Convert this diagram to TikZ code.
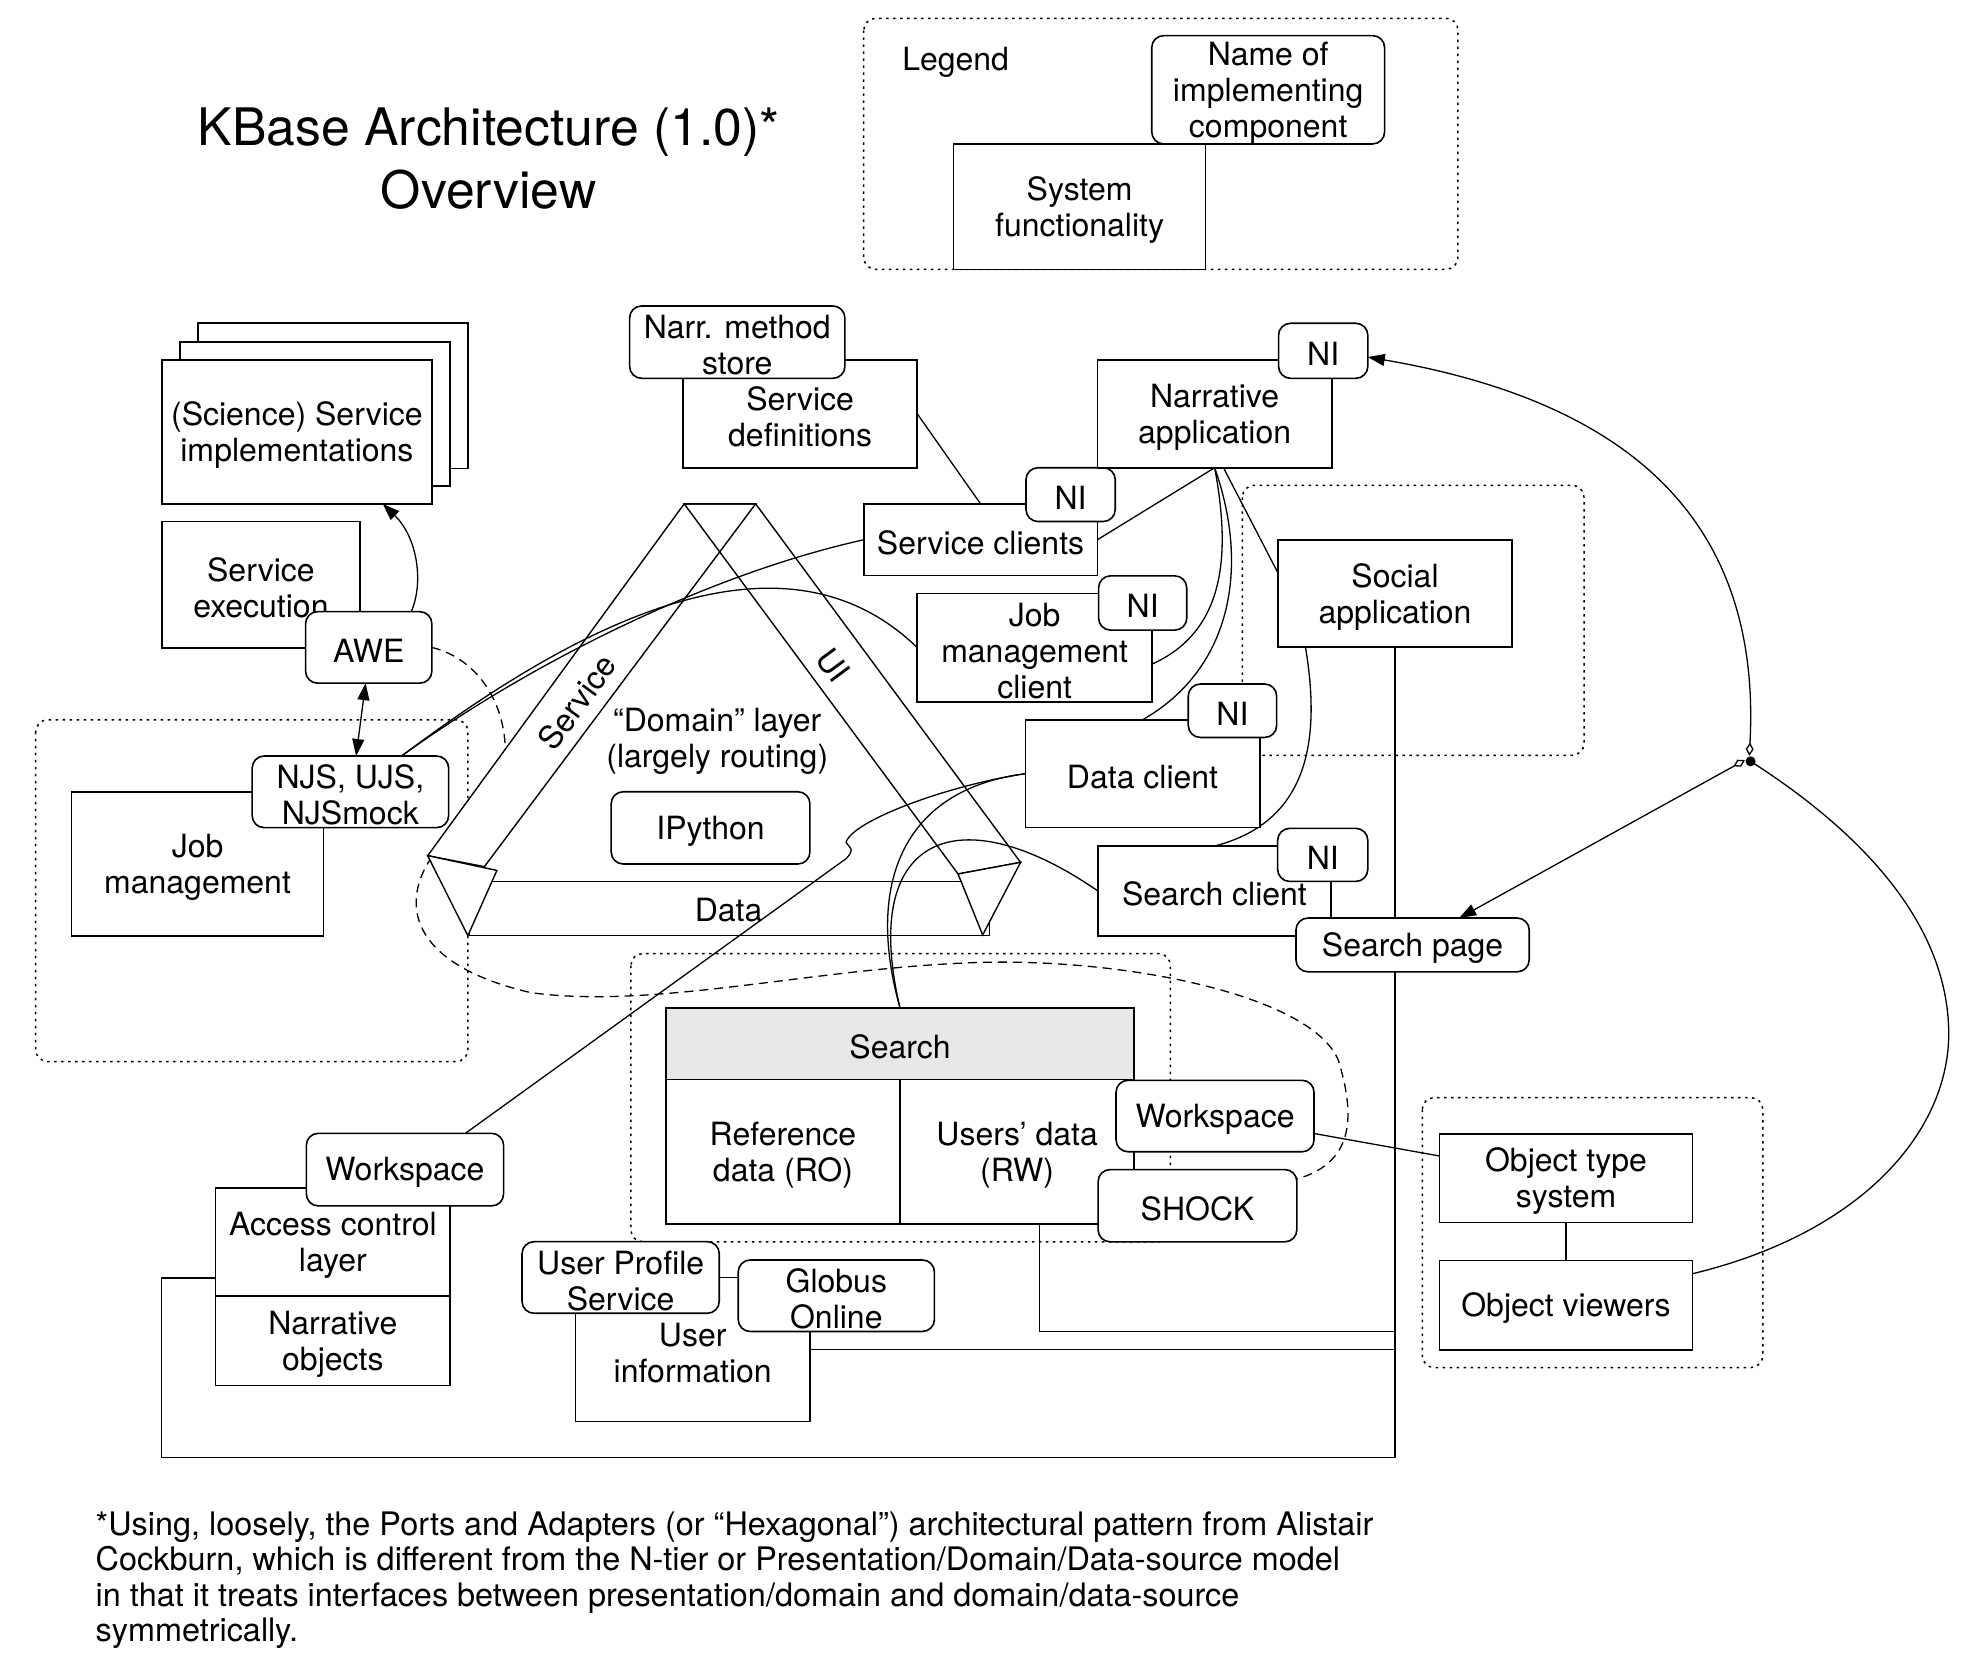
\documentclass[tikz,border=0pt]{standalone}
\usepackage{fontspec}
\setmainfont{TeX Gyre Heros}
\usetikzlibrary{arrows.meta,calc}
\pgfdeclarelayer{bg}\pgfdeclarelayer{mid}\pgfdeclarelayer{front}
\pgfsetlayers{bg,mid,main,front}
\newlength\ux\setlength\ux{1.2628pt}
\newcommand\bx[7]{\node[#1, minimum width={(#5-#3)*\ux}, minimum height={(#6-#4)*\ux}] (#2) at ({(#3+#5)/2},{(#4+#6)/2}) {};
  \node[align=center, inner sep=0pt] (#2t) at ($(#2.center)+(0,2.5)$) {#7};}
\begin{document}
\begin{tikzpicture}[x=1.2628pt,y=-1.2628pt,
  font=\fontsize{32pt}{36pt}\selectfont,
  sys/.style={draw, line width=1.6pt, fill=white, inner sep=0pt, outer sep=0pt},
  comp/.style={sys, rounded corners=12pt},
  grp/.style={draw, line width=1.5pt, dash pattern=on 2.5pt off 4.5pt, rounded corners=12pt},
  conn/.style={line width=1.3pt},
  band/.style={draw, line width=1.4pt, line join=miter},
  dashl/.style={line width=1.3pt, dash pattern=on 9pt off 6pt},
  tri/.tip={Triangle[length=17pt,width=12pt]},
  dia/.tip={Diamond[open,length=13pt,width=8pt]}]
\useasboundingbox (0,0) rectangle (1568,1327);

% ---------- nodes (front layer) ----------
\begin{pgfonlayer}{front}
\node[align=center, font=\fontsize{51.7pt}{63pt}\selectfont] (title) at (387,126) {KBase Architecture (1.0)*\\Overview};
\node (legtxt) at (756.8,49) {Legend};
\bx{sys}{legsys}{755.2}{114}{954.7}{213.3}{System\\functionality}
\bx{comp}{legname}{912.1}{28.2}{1096.5}{114}{Name of\\implementing\\component}

\bx{sys}{sci3}{156.6}{256}{370.6}{370.9}{}
\bx{sys}{sci2}{142.5}{270.6}{356.3}{384.9}{}
\bx{sys}{sci}{128.3}{285}{342}{399}{(Science) Service\\implementations}
\bx{sys}{sexec}{128.3}{413}{285}{513}{Service\\execution}
\bx{comp}{awe}{242}{484.4}{342}{541}{AWE}
\bx{sys}{jm}{56.6}{627}{256.3}{741}{Job\\management}
\bx{comp}{njs}{199.7}{598.7}{355.3}{655.4}{NJS, UJS,\\NJSmock}

\bx{sys}{sdef}{541}{285}{726.4}{370.4}{Service\\definitions}
\bx{comp}{nms}{498.6}{242.3}{669.1}{299.6}{Narr. method\\store}
\bx{sys}{sclient}{684}{399}{869}{455.9}{Service clients}
\bx{comp}{niA}{812.5}{370.4}{883.2}{413}{NI}
\bx{sys}{narr}{869}{285}{1054.8}{370.4}{Narrative\\application}
\bx{comp}{niN}{1012.5}{256}{1083.2}{299.6}{NI}
\bx{sys}{jmc}{726.4}{470}{912.3}{555.7}{Job\\management\\client}
\bx{comp}{niJ}{870}{456}{939.8}{499}{NI}
\bx{sys}{dcl}{812}{570}{997.6}{655.4}{Data client}
\bx{comp}{niD}{941}{541.7}{1011}{584}{NI}
\bx{sys}{srcl}{869.3}{670}{1054.2}{741}{Search client}
\bx{comp}{niS}{1011.8}{656}{1083.2}{698}{NI}
\bx{comp}{spage}{1026.3}{727}{1211}{769.6}{Search page}
\bx{sys}{social}{1012}{427.4}{1197.5}{512.6}{Social\\application}

\bx{comp}{ipy}{484}{627}{641.4}{684.2}{IPython}
\node[align=center] (domain) at (568,587) {“Domain” layer\\(largely routing)};
\node[rotate=53.9] (svclbl) at (457,556) {Service};
\node[rotate=-53.5] (uilbl) at (660,527) {UI};
\node (datalbl) at (577,721) {Data};

\bx{sys,fill=black!9}{shdr}{527.3}{798.2}{898.2}{855}{Search}
\bx{sys}{refd}{527.3}{855}{712.8}{969.2}{Reference\\data (RO)}
\bx{sys}{users}{712.8}{855}{898.2}{969.2}{Users’ data\\(RW)}
\bx{comp}{ws2}{883.8}{855.5}{1040.6}{912.1}{Workspace}
\bx{comp}{shock}{869.6}{926.2}{1027}{983.4}{SHOCK}

\bx{sys}{acl}{170.8}{941}{356.4}{1026.3}{Access control\\layer}
\bx{sys}{nobj}{170.8}{1026.3}{356.4}{1097.3}{Narrative\\objects}
\bx{comp}{ws1}{242.6}{897.5}{398.8}{955}{Workspace}

\bx{sys}{uinfo}{455.7}{1011.6}{641.4}{1125.8}{User\\information}
\bx{comp}{ups}{413.4}{983.3}{569.6}{1040}{User Profile\\Service}
\bx{comp}{globus}{584.6}{997.8}{740}{1054.4}{Globus\\Online}

\bx{sys}{ots}{1140}{898}{1340.3}{968.2}{Object type\\system}
\bx{sys}{ov}{1140}{998.3}{1340.3}{1069}{Object viewers}

\begin{scope}[font=\fontsize{32.4pt}{36pt}\selectfont]
\node[anchor=base west] (fn1) at (73,1216) {*Using, loosely, the Ports and Adapters (or “Hexagonal”) architectural pattern from Alistair};
\node[anchor=base west] (fn2) at (73,1244) {Cockburn, which is different from the N-tier or Presentation/Domain/Data-source model};
\node[anchor=base west] (fn3) at (73,1272) {in that it treats interfaces between presentation/domain and domain/data-source};
\node[anchor=base west] (fn4) at (73,1300) {symmetrically.};
\end{scope}
\end{pgfonlayer}

% ---------- group boxes and dashed loop (background) ----------
\begin{pgfonlayer}{bg}
\draw[grp] (684,14.5) rectangle (1154.6,213.3);
\draw[grp] (28.3,570) rectangle (370.6,840.7);
\draw[grp] (983.8,384.3) rectangle (1254.4,598.2);
\draw[grp] (499.6,755.1) rectangle (926.8,983.4);
\draw[grp] (1126.3,869.2) rectangle (1396,1083);
\draw[dashl] (awe.east) .. controls (380,522) and (402,560) .. (400,600)
  .. controls (398,630) and (370,655) .. (341,680)
  .. controls (315,720) and (330,765) .. (420,786)
  .. controls (520,800) and (650,765) .. (782,762)
  .. controls (900,760) and (1040,790) .. (1060,840)
  .. controls (1072,880) and (1075,920) .. (shock.15);
\end{pgfonlayer}

% ---------- the domain triangle (middle layer) ----------
\begin{pgfonlayer}{mid}
\fill[white] (541.8,399) -- (598.4,399) -- (383.6,686.3) -- (338.7,677.6) -- cycle;
\fill[white] (541.8,399) -- (598.4,399) -- (808.2,682.9) -- (758.7,692.1) -- cycle;
\fill[white] (371.6,698.2) rectangle (783.5,741);
\draw[band] (541.8,399) -- (598.4,399) -- (383.6,686.3) -- (338.7,677.6) -- cycle;
\draw[band] (541.8,399) -- (598.4,399) -- (808.2,682.9) -- (758.7,692.1) -- cycle;
\draw[band] (371.6,698.2) rectangle (783.5,741);
\filldraw[band, fill=white] (338.7,677.6) -- (393.5,689.3) -- (370.5,741) -- cycle;
\filldraw[band, fill=white] (758.7,692.1) -- (808.2,682.9) -- (778.2,740.4) -- cycle;
\end{pgfonlayer}

% ---------- connectors ----------
\draw[conn,-tri] (awe.40) .. controls (336,460) and (330,425) .. (sci.-40);
\draw[conn,tri-tri] (awe.-95) -- (njs.81);
\draw[conn] (sdef.east) -- (sclient.north);
\draw[conn] (sclient.east) -- (narr.south);
\draw[conn] (narr.south) .. controls (975,440) and (970,500) .. (jmc.-8);
\draw[conn] (narr.south) .. controls (990,450) and (975,530) .. (dcl.north);
\draw[conn] ($(narr.south)+(7,0)$) -- (social.170);
\draw[conn] (social.211) .. controls (1045,580) and (1040,650) .. (srcl.north);
\draw[conn] (srcl.west) .. controls (760,630) and (680,660) .. (shdr.north);
\draw[conn] (dcl.west) .. controls (715,625) and (685,700) .. (shdr.north);
\draw[conn] (dcl.west) .. controls (750,622) and (675,650) .. (670,667)
  .. controls (672,671) and (678,672) .. (670,680) -- (ws1.31);
\draw[conn] (njs.35) .. controls (420,525) and (560,455) .. (sclient.west);
\draw[conn] (njs.35) .. controls (430,515) and (610,400) .. (jmc.west);
\draw[conn] (ws2.-10) -- (ots.170);
\draw[conn] (ots.south) -- (ov.north);
\draw[conn] ($(acl.west)+(0,28.4)$) -| (128,1154.3) -| (social.south);
\draw[conn] ($(users.south)+(17.8,0)$) |- ($(social.south)+(0,541.8)$);
\draw[conn] (uinfo.east) -- (uinfo.east -| social.south);

\coordinate (jn) at (1386.3,602.9);
\draw[conn] (ov.14) .. controls (1480,975) and (1548,890) .. (1543,810)
  .. controls (1538,720) and (1460,650) .. (jn);
\fill (jn) circle[radius=5pt];
\draw[conn,dia-tri] ($(jn)+(-1,-4.5)$) .. controls (1395,420) and (1300,320) .. (niN.-8);
\draw[conn,dia-tri] ($(jn)+(-4.5,-1)$) -- (spage.30);
\end{tikzpicture}
\end{document}
